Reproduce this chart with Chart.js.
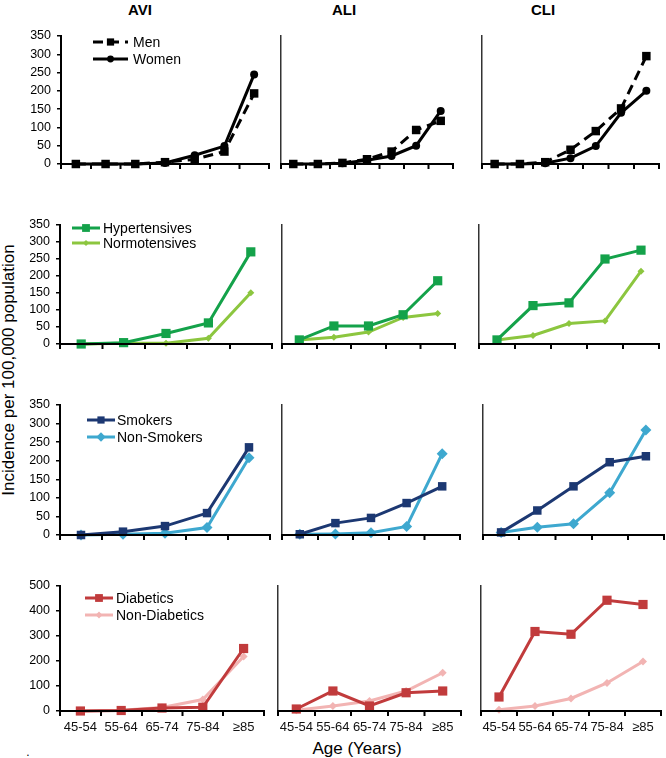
<!DOCTYPE html>
<html><head><meta charset="utf-8">
<script src="https://cdn.jsdelivr.net/npm/chart.js@4"></script>
<style>
html,body{margin:0;padding:0;background:#fff;}
body{width:666px;height:758px;position:relative;overflow:hidden;font-family:"Liberation Sans",Arial,sans-serif;}
canvas{position:absolute;}
.t{position:absolute;white-space:nowrap;color:#000;transform:translate(-50%,-50%);line-height:1;}
</style></head><body>
<div class="t" style="left:140px;top:9px;font-weight:bold;font-size:15px;">AVI</div>
<div class="t" style="left:344px;top:9px;font-weight:bold;font-size:15px;">ALI</div>
<div class="t" style="left:543px;top:9px;font-weight:bold;font-size:15px;">CLI</div>
<div class="t" style="left:8px;top:370px;font-size:17px;transform:translate(-50%,-50%) rotate(-90deg);">Incidence per 100,000 population</div>
<div class="t" style="left:357px;top:748px;font-size:17px;">Age (Years)</div>
<div class="t" style="left:28px;top:752px;font-size:12px;">.</div>
<script>
// ---- categories ----
const ageFine = ['45-54','55-59','60-64','65-69','70-74','75-84','≥85']; // row 1 (unlabelled in figure)
const ageGroups = ['45-54','55-64','65-74','75-84','≥85'];

// ---- row 1: sex ----
const aviMen   = [0,0,0,5,13,34,193];
const aviWomen = [0,0,0,3,24,49,245];
const aliMen   = [0,0,3,13,34,93,118];
const aliWomen = [0,0,2,10,22,50,145];
const cliMen   = [0,0,5,39,90,152,295];
const cliWomen = [0,0,2,16,49,140,200];

// ---- row 2: hypertension ----
const aviHyp  = [0,4,31,62,271];
const aviNorm = [0,2,2,17,151];
const aliHyp  = [12,53,53,86,186];
const aliNorm = [12,20,35,78,90];
const cliHyp  = [12,113,121,250,276];
const cliNorm = [12,25,60,68,214];

// ---- row 3: smoking ----
const aviSmk    = [0,9,24,59,236];
const aviNonSmk = [0,2,5,20,208];
const aliSmk    = [2,32,46,86,131];
const aliNonSmk = [2,3,6,23,219];
const cliSmk    = [7,66,131,196,212];
const cliNonSmk = [7,21,30,114,283];

// ---- row 4: diabetes ----
const aviDia    = [0,2,12,15,250];
const aviNonDia = [0,3,14,46,218];
const aliDia    = [8,80,20,73,80];
const aliNonDia = [3,20,40,80,153];
const cliDia    = [56,318,307,443,426];
const cliNonDia = [5,20,50,112,198];

const yTicks350 = [0,50,100,150,200,250,300,350];
const yTicks500 = [0,100,200,300,400,500];

const FONT = '"Liberation Sans", Arial, sans-serif';

function drawMarker(ctx, style, x, y, r, fill) {
  ctx.beginPath();
  if (style === 'circle') {
    ctx.arc(x, y, r, 0, Math.PI * 2);
  } else if (style === 'rectRot') {
    ctx.moveTo(x, y - r); ctx.lineTo(x + r, y); ctx.lineTo(x, y + r); ctx.lineTo(x - r, y); ctx.closePath();
  } else {
    const s = Math.SQRT1_2 * r;
    ctx.rect(x - s, y - s, 2 * s, 2 * s);
  }
  ctx.fillStyle = fill; ctx.fill();
}

// in-plot legend (line sample + marker + label), drawn from the datasets
const legendPlugin = {
  id: 'inlegend',
  afterDatasetsDraw(chart, args, opts) {
    if (!opts || !opts.rows) return;
    const ctx = chart.ctx, a = chart.chartArea;
    ctx.save();
    opts.rows.forEach((dy, i) => {
      const ds = chart.data.datasets[i];
      const y = a.top + dy;
      const x1 = a.left + opts.x1, x2 = a.left + opts.x2;
      ctx.strokeStyle = ds.borderColor; ctx.lineWidth = ds.borderWidth;
      ctx.setLineDash(ds.borderDash || []);
      ctx.beginPath(); ctx.moveTo(x1, y); ctx.lineTo(x2, y); ctx.stroke();
      ctx.setLineDash([]);
      drawMarker(ctx, ds.pointStyle, (x1 + x2) / 2, y, ds.pointRadius * 0.85, ds.pointBackgroundColor);
      ctx.fillStyle = '#000'; ctx.font = '14px ' + FONT;
      ctx.textBaseline = 'middle'; ctx.textAlign = 'left';
      ctx.fillText(ds.label, a.left + opts.tx, y + 1);
    });
    ctx.restore();
  }
};

// makes sure the category axis baseline and its tick marks are visible (uses the x scale's own positions)
const baselinePlugin = {
  id: 'baseline',
  afterDraw(chart) {
    const xs = chart.scales.x, a = chart.chartArea, ctx = chart.ctx;
    const n = xs.ticks.length;
    const step = (a.right - a.left) / n;
    const y = Math.round(xs.top);
    ctx.save();
    ctx.strokeStyle = '#000';
    ctx.lineWidth = 2;
    ctx.beginPath(); ctx.moveTo(a.left - 1, y); ctx.lineTo(a.right + 1, y); ctx.stroke();
    ctx.lineWidth = 1.5;
    ctx.beginPath();
    for (let i = 0; i <= n; i++) {
      const x = Math.round(xs.getPixelForTick(0) - step / 2 + i * step) + 0.25;
      ctx.moveTo(x, y); ctx.lineTo(x, y + 5);
    }
    ctx.stroke();
    ctx.restore();
  }
};

function series(label, data, color, style, radius, dash) {
  return {
    label, data,
    borderColor: color, backgroundColor: color,
    borderWidth: 3, borderDash: dash || [],
    pointStyle: style, pointRadius: radius, pointHoverRadius: radius,
    pointBackgroundColor: color, pointBorderColor: color, pointBorderWidth: 0,
    tension: 0, clip: false, fill: false
  };
}

function panel(p) {
  const yW = p.showY ? p.L : 3;
  const padT = 14, padR = 5, xH = p.showX ? 34 : 14;
  const left = p.L - yW, top = p.T - padT;
  const w = Math.round(yW + (p.R - p.L) + padR), h = Math.round(padT + (p.B - p.T) + xH);
  const c = document.createElement('canvas');
  c.width = w; c.height = h;
  c.style.left = left + 'px'; c.style.top = top + 'px';
  c.style.width = w + 'px'; c.style.height = h + 'px';
  document.body.appendChild(c);
  new Chart(c, {
    type: 'line',
    data: { labels: p.labels, datasets: p.datasets },
    plugins: [baselinePlugin, legendPlugin],
    options: {
      responsive: false, animation: false, devicePixelRatio: 1,
      layout: { autoPadding: false, padding: { top: padT, right: padR, left: 0, bottom: 0 } },
      plugins: { legend: { display: false }, tooltip: { enabled: false }, inlegend: p.legend || {} },
      scales: {
        x: {
          type: 'category', offset: true,
          afterFit: s => { s.height = xH; },
          grid: { display: true, offset: true, drawOnChartArea: false, drawTicks: true, tickLength: 5, color: '#000', lineWidth: 1.5 },
          border: { display: true, color: '#000', width: 2 },
          ticks: { display: !!p.showX, color: '#111', font: { family: FONT, size: 13 }, padding: 4, maxRotation: 0, autoSkip: false }
        },
        y: {
          min: 0, max: p.ticks[p.ticks.length - 1],
          afterFit: s => { s.width = yW; },
          afterBuildTicks: s => { s.ticks = p.ticks.map(v => ({ value: v })); },
          grid: { display: !!p.showY, drawOnChartArea: false, drawTicks: true, tickLength: 4, color: '#000', lineWidth: 1.5 },
          border: { display: true, color: p.showY ? '#000' : '#333', width: p.showY ? 2 : 1.5 },
          ticks: { display: !!p.showY, autoSkip: false, color: '#000', font: { family: FONT, size: 12.5 }, padding: 6 }
        }
      }
    }
  });
}

// colours
const BLACK = '#000000';
const HYP = '#14a24a', NORM = '#8cc63f';
const SMK = '#1c3872', NSMK = '#3ea8cf';
const DIA = '#c13b3c', NDIA = '#f2b4b3';

const rows = [
  { T: 36, B: 164, labels: ageFine, ticks: yTicks350,
    cols: [
      { L: 61, R: 269, a: aviMen, b: aviWomen, legend: { x1: 32, x2: 67, tx: 72, rows: [6, 23] } },
      { L: 281, R: 453, a: aliMen, b: aliWomen },
      { L: 482, R: 659, a: cliMen, b: cliWomen } ],
    mk: (a, b) => [ series('Men', a, BLACK, 'rect', 6, [10, 6]), series('Women', b, BLACK, 'circle', 4) ] },
  { T: 225, B: 344, labels: ageGroups, ticks: yTicks350,
    cols: [
      { L: 60, R: 272, a: aviHyp, b: aviNorm, legend: { x1: 12, x2: 40, tx: 43, rows: [3, 18] } },
      { L: 282, R: 455, a: aliHyp, b: aliNorm },
      { L: 479, R: 659, a: cliHyp, b: cliNorm } ],
    mk: (a, b) => [ series('Hypertensives', a, HYP, 'rect', 6.5), series('Normotensives', b, NORM, 'rectRot', 3.5) ] },
  { T: 405, B: 535, labels: ageGroups, ticks: yTicks350,
    cols: [
      { L: 60, R: 270, a: aviSmk, b: aviNonSmk, legend: { x1: 27, x2: 55, tx: 57, rows: [15, 32] } },
      { L: 282, R: 460, a: aliSmk, b: aliNonSmk },
      { L: 483, R: 664, a: cliSmk, b: cliNonSmk } ],
    mk: (a, b) => [ series('Smokers', a, SMK, 'rect', 6), series('Non-Smokers', b, NSMK, 'rectRot', 5.5) ] },
  { T: 586, B: 711, labels: ageGroups, ticks: yTicks500, showX: true,
    cols: [
      { L: 60, R: 264, a: aviDia, b: aviNonDia, legend: { x1: 25, x2: 53, tx: 56, rows: [12, 29] } },
      { L: 278, R: 461, a: aliDia, b: aliNonDia },
      { L: 481, R: 661, a: cliDia, b: cliNonDia } ],
    mk: (a, b) => [ series('Diabetics', a, DIA, 'rect', 6.5), series('Non-Diabetics', b, NDIA, 'rectRot', 4) ] }
];

rows.forEach(r => {
  r.cols.forEach((c, i) => {
    panel({
      L: c.L, R: c.R, T: r.T, B: r.B, labels: r.labels, ticks: r.ticks,
      showY: i === 0, showX: !!r.showX,
      datasets: r.mk(c.a, c.b), legend: c.legend
    });
  });
});
</script>
</body></html>
